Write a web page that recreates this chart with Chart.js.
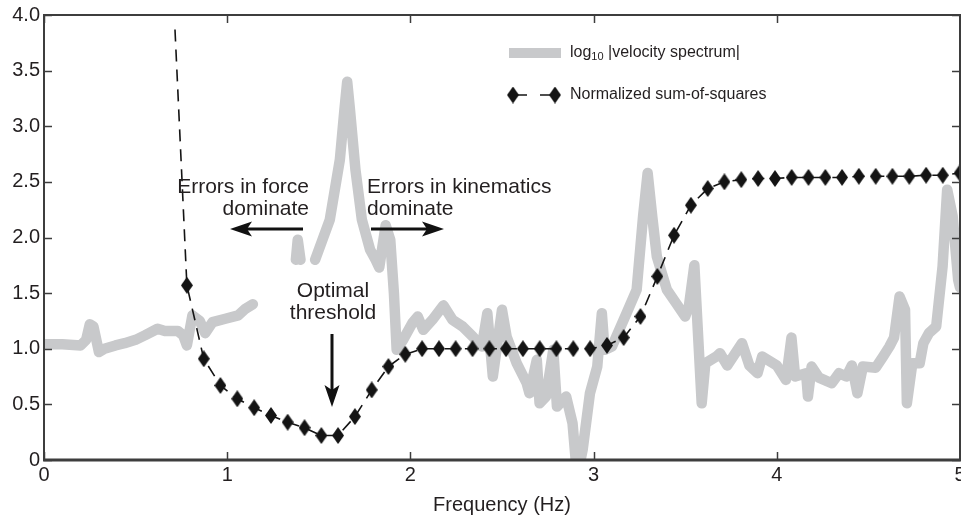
<!DOCTYPE html>
<html><head><meta charset="utf-8">
<script src="https://cdn.jsdelivr.net/npm/chart.js@4/dist/chart.umd.min.js"></script>
<style>html,body{margin:0;padding:0;background:#fff}</style>
</head><body>
<canvas id="c" width="961" height="518" style="display:block;width:961px;height:518px"></canvas>
<script>
// ---- data ----
const specFreq = [0.00,0.10,0.20,0.23,0.25,0.27,0.30,0.33,0.39,0.44,0.50,0.55,0.62,0.66,0.73,0.76,0.78,0.81,0.85,0.88,0.92,0.99,1.06,1.10,1.14,1.145,
  1.375,1.385,1.40,1.41,
  1.48,1.56,1.615,1.64,1.655,1.67,1.70,1.735,1.78,1.81,1.83,1.865,1.89,1.91,1.925,1.96,2.01,2.04,2.07,2.12,2.18,2.23,2.285,2.34,2.39,2.42,2.45,2.50,2.525,2.58,2.635,2.65,2.69,2.705,2.74,2.78,2.80,2.85,2.885,2.91,2.94,2.98,3.02,3.045,3.06,3.10,3.14,3.18,3.235,3.27,3.295,3.32,3.345,3.40,3.45,3.50,3.52,3.55,3.59,3.61,3.67,3.69,3.73,3.81,3.85,3.895,3.92,4.00,4.05,4.08,4.10,4.16,4.17,4.19,4.23,4.30,4.34,4.38,4.41,4.44,4.47,4.54,4.58,4.615,4.64,4.67,4.70,4.71,4.74,4.78,4.80,4.83,4.87,4.905,4.93,4.96,4.99,5.00];
const specVal = [1.04,1.04,1.03,1.08,1.22,1.20,0.97,1.00,1.03,1.05,1.08,1.12,1.18,1.16,1.16,1.12,1.03,1.30,1.25,1.14,1.24,1.27,1.30,1.36,1.40,null,
  1.80,1.98,1.80,null,
  1.80,2.16,2.70,3.15,3.40,3.15,2.61,2.16,1.89,1.80,1.73,2.11,1.98,1.50,0.99,1.08,1.23,1.29,1.17,1.26,1.39,1.26,1.20,1.11,1.02,1.32,0.75,1.35,1.11,0.87,0.69,0.60,0.90,0.51,0.57,0.99,0.48,0.57,0.33,-0.15,0.09,0.60,0.84,1.32,0.99,1.02,1.17,1.32,1.53,2.19,2.58,2.19,1.83,1.53,1.41,1.29,1.38,1.75,0.51,0.87,0.93,0.96,0.85,1.05,0.85,0.78,0.93,0.85,0.72,1.10,0.75,0.78,0.57,0.84,0.74,0.69,0.78,0.75,0.85,0.60,0.84,0.83,0.93,1.02,1.10,1.47,1.35,0.51,0.87,0.87,1.05,1.14,1.20,1.74,2.43,2.19,1.62,1.55];
const sosFreq = [0.715,0.780,0.872,0.963,1.055,1.147,1.239,1.330,1.422,1.514,1.605,1.697,1.789,1.880,1.972,2.064,2.156,2.247,2.339,2.431,2.522,2.614,2.706,2.797,2.889,2.981,3.073,3.164,3.256,3.348,3.439,3.531,3.623,3.714,3.806,3.898,3.990,4.081,4.173,4.265,4.356,4.448,4.540,4.631,4.723,4.815,4.906,4.998];
const sosVal = [3.87,1.57,0.91,0.67,0.55,0.47,0.40,0.34,0.29,0.22,0.22,0.39,0.63,0.84,0.95,1.00,1.00,1.00,1.00,1.00,1.00,1.00,1.00,1.00,1.00,1.00,1.03,1.10,1.29,1.65,2.02,2.29,2.44,2.50,2.52,2.53,2.53,2.54,2.54,2.54,2.54,2.55,2.55,2.55,2.55,2.56,2.56,2.58];
const xTickVals = [0,1,2,3,4,5];
const yTickVals = [0,0.5,1,1.5,2,2.5,3,3.5,4];
const xTitle = 'Frequency (Hz)';
const legendSpec = ['log', '10', ' |velocity spectrum|'];
const legendSos = 'Normalized sum-of-squares';
const noteForce = ['Errors in force', 'dominate'];
const noteKin = ['Errors in kinematics', 'dominate'];
const noteOpt = ['Optimal', 'threshold'];

// ---- styling ----
const FONT = '"Liberation Sans", Arial, Helvetica, sans-serif';
const GRAY = '#c8c9cb';
const INK = '#231f20';
const AXIS = '#3d3d3d';
Chart.defaults.font.family = FONT;
Chart.defaults.color = INK;

function diamondCanvas(w, h) {
  const c = document.createElement('canvas');
  c.width = w; c.height = h;
  const g = c.getContext('2d');
  g.fillStyle = '#141414';
  g.beginPath();
  g.moveTo(w/2, 0); g.lineTo(w, h/2); g.lineTo(w/2, h); g.lineTo(0, h/2); g.closePath();
  g.fill();
  return c;
}
const DIAMOND = diamondCanvas(12, 17);

const specData = specFreq.map((f, i) => ({x: f, y: specVal[i]}));
const sosData = sosFreq.map((f, i) => ({x: f, y: sosVal[i]}));

function arrow(ctx, x1, y1, x2, y2) {
  const ang = Math.atan2(y2 - y1, x2 - x1);
  const L = 22, W = 7.5, N = 5;
  ctx.save();
  ctx.translate(x2, y2); ctx.rotate(ang);
  const len = Math.hypot(x2 - x1, y2 - y1);
  ctx.strokeStyle = '#111'; ctx.fillStyle = '#111'; ctx.lineWidth = 3;
  ctx.beginPath(); ctx.moveTo(-len, 0); ctx.lineTo(-L + N, 0); ctx.stroke();
  ctx.beginPath();
  ctx.moveTo(0, 0); ctx.lineTo(-L, -W); ctx.lineTo(-L + N, 0); ctx.lineTo(-L, W); ctx.closePath();
  ctx.fill();
  ctx.restore();
}

const decor = {
  id: 'decor',
  afterDatasetsDraw(chart) {
    const ctx = chart.ctx;
    const xs = chart.scales.x, ys = chart.scales.y;
    const L = xs.left, R = xs.right, T = ys.top, B = ys.bottom;
    ctx.save();
    ctx.strokeStyle = AXIS;
    // ticks (inward)
    ctx.lineWidth = 1.5;
    xTickVals.forEach(v => {
      const px = Math.round(xs.getPixelForValue(v)) + 0.5;
      ctx.beginPath(); ctx.moveTo(px, B); ctx.lineTo(px, B - 8); ctx.stroke();
      ctx.beginPath(); ctx.moveTo(px, T); ctx.lineTo(px, T + 8); ctx.stroke();
    });
    yTickVals.forEach(v => {
      const py = Math.round(ys.getPixelForValue(v)) + 0.5;
      ctx.beginPath(); ctx.moveTo(L, py); ctx.lineTo(L + 8, py); ctx.stroke();
      ctx.beginPath(); ctx.moveTo(R, py); ctx.lineTo(R - 8, py); ctx.stroke();
    });
    // spines
    ctx.lineWidth = 2;
    ctx.beginPath(); ctx.moveTo(L, B); ctx.lineTo(L, T); ctx.lineTo(R, T); ctx.lineTo(R, B); ctx.stroke();
    ctx.lineWidth = 3;
    ctx.beginPath(); ctx.moveTo(L - 1, B); ctx.lineTo(R + 1, B); ctx.stroke();

    // annotations
    ctx.fillStyle = INK;
    ctx.font = '21px ' + FONT;
    ctx.textBaseline = 'middle';
    ctx.textAlign = 'right';
    ctx.fillText(noteForce[0], 309, 187);
    ctx.fillText(noteForce[1], 309, 209);
    ctx.textAlign = 'left';
    ctx.fillText(noteKin[0], 367, 187);
    ctx.fillText(noteKin[1], 367, 209);
    ctx.textAlign = 'center';
    ctx.fillText(noteOpt[0], 333, 291);
    ctx.fillText(noteOpt[1], 333, 313);
    arrow(ctx, 303, 229, 230, 229);
    arrow(ctx, 371, 229, 444, 229);
    arrow(ctx, 332, 334, 332, 407);

    // legend
    ctx.strokeStyle = GRAY; ctx.lineWidth = 10; ctx.lineCap = 'butt';
    ctx.beginPath(); ctx.moveTo(509, 53); ctx.lineTo(561, 53); ctx.stroke();
    ctx.textAlign = 'left';
    ctx.fillStyle = INK;
    let tx = 570;
    ctx.font = '16px ' + FONT;
    ctx.fillText(legendSpec[0], tx, 53); tx += ctx.measureText(legendSpec[0]).width;
    ctx.font = '11px ' + FONT;
    ctx.fillText(legendSpec[1], tx, 57); tx += ctx.measureText(legendSpec[1]).width;
    ctx.font = '16px ' + FONT;
    ctx.fillText(legendSpec[2], tx, 53);
    ctx.strokeStyle = '#141414'; ctx.lineWidth = 1.6;
    ctx.beginPath(); ctx.moveTo(513, 95); ctx.lineTo(527, 95); ctx.moveTo(540, 95); ctx.lineTo(555, 95); ctx.stroke();
    ctx.drawImage(DIAMOND, 513 - 6, 95 - 8.5);
    ctx.drawImage(DIAMOND, 555 - 6, 95 - 8.5);
    ctx.fillText(legendSos, 570, 95);
    ctx.restore();
  }
};

new Chart(document.getElementById('c'), {
  type: 'line',
  data: {
    datasets: [
      {
        label: 'Normalized sum-of-squares',
        data: sosData,
        order: 1,
        borderColor: '#141414',
        borderWidth: 1.6,
        borderDash: [12, 8],
        pointStyle: DIAMOND,
        pointRadius: c => c.dataIndex === 0 ? 0 : 6,
        pointHoverRadius: 0,
        tension: 0,
        clip: false
      },
      {
        label: 'log10 |velocity spectrum|',
        data: specData,
        order: 2,
        borderColor: GRAY,
        borderWidth: 10.5,
        borderJoinStyle: 'round',
        borderCapStyle: 'round',
        pointRadius: 0,
        spanGaps: false,
        tension: 0,
        clip: 0
      }
    ]
  },
  options: {
    responsive: false,
    animation: false,
    events: [],
    devicePixelRatio: 1,
    layout: { autoPadding: false, padding: { top: 15, right: 1, left: 0, bottom: 0 } },
    plugins: { legend: { display: false }, tooltip: { enabled: false } },
    scales: {
      x: {
        type: 'linear', min: 0, max: 5,
        afterBuildTicks: s => { s.ticks = xTickVals.map(v => ({value: v})); },
        ticks: { font: { size: 20 }, color: INK, padding: 3, maxRotation: 0, autoSkip: false,
                 callback: v => String(v) },
        grid: { display: false, drawTicks: false },
        border: { display: false },
        title: { display: true, text: xTitle, font: { size: 20 }, color: INK, padding: { top: 0, bottom: 1 } },
        afterFit: s => { s.height = 58; s.paddingLeft = 0; s.paddingRight = 0; }
      },
      y: {
        type: 'linear', min: 0, max: 4,
        afterBuildTicks: s => { s.ticks = yTickVals.map(v => ({value: v})); },
        ticks: { font: { size: 20 }, color: INK, padding: 4, autoSkip: false,
                 callback: v => v === 0 ? '0' : Number(v).toFixed(1) },
        grid: { display: false, drawTicks: false },
        border: { display: false },
        afterFit: s => { s.width = 44; s.paddingTop = 0; s.paddingBottom = 0; }
      }
    }
  },
  plugins: [decor]
});
</script>
</body></html>
